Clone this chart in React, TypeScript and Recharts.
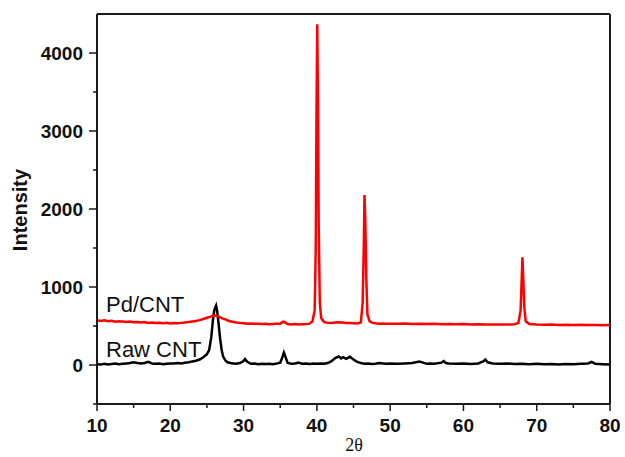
import { LineChart, Line, XAxis, YAxis, ReferenceLine } from 'recharts';

// Pd/CNT pattern (red)
const pdTheta = [
  10, 10.5, 11, 11.5, 12, 12.5, 13, 13.5, 14, 14.5, 15, 15.5, 16, 16.5, 17, 17.5, 18, 18.5, 19, 19.5,
  20, 20.5, 21, 21.5, 22, 22.5, 23, 23.5, 24, 24.5, 25, 25.5, 26, 26.3, 26.6, 27, 27.5, 28, 28.5, 29,
  29.5, 30, 30.5, 31, 31.5, 32, 32.5, 33, 33.5, 34, 34.5, 35, 35.4, 35.7, 36, 36.5, 37, 37.5, 38, 38.5,
  39, 39.4, 39.7, 39.85, 39.95, 40.05, 40.15, 40.25, 40.4, 40.6, 41, 41.5, 42, 42.5, 43, 43.5, 44, 44.5,
  45, 45.5, 46, 46.25, 46.4, 46.5, 46.6, 46.75, 46.9, 47.2, 47.6, 48, 48.5, 49, 49.5, 50, 51, 52, 53,
  54, 55, 56, 57, 58, 59, 60, 61, 62, 63, 64, 65, 66, 67, 67.5, 67.8, 67.95, 68.05, 68.15, 68.3, 68.5,
  69, 70, 71, 72, 73, 74, 75, 76, 77, 78, 79, 80,
];
const pdIntensity = [
  575, 565, 572, 560, 568, 556, 562, 558, 550, 556, 548, 552, 545, 550, 540, 546, 538, 542, 535, 540,
  532, 538, 535, 540, 545, 550, 558, 565, 575, 590, 605, 620, 638, 632, 620, 600, 585, 565, 555, 545,
  540, 535, 530, 532, 528, 530, 525, 528, 522, 525, 528, 530, 555, 545, 525, 520, 525, 520, 522, 525,
  530, 560, 700, 1500, 3200, 4370, 3400, 1800, 800, 600, 550, 540, 538, 545, 548, 545, 540, 538,
  535, 532, 545, 800, 1500, 2180, 1900, 1100, 650, 560, 540, 535, 530, 532, 528, 530, 528, 532, 526,
  530, 525, 528, 524, 526, 522, 525, 520, 522, 520, 518, 520, 518, 522, 540, 700, 1100, 1380, 1150, 750, 560,
  525, 518, 515, 518, 514, 516, 512, 515, 512, 514, 510, 512,
];

// Raw CNT pattern (black)
const rawTheta = [
  10, 10.5, 11, 11.5, 12, 12.5, 13, 13.5, 14, 14.5, 15, 15.5, 16, 16.5, 17, 17.5, 18, 18.5, 19, 19.5,
  20, 20.5, 21, 21.5, 22, 22.5, 23, 23.5, 24, 24.5, 25, 25.3, 25.6, 25.8, 26, 26.25, 26.4, 26.6, 26.8,
  27, 27.2, 27.5, 27.8, 28.2, 28.6, 29, 29.5, 30, 30.2, 30.5, 31, 31.5, 32, 32.5, 33, 33.5, 34, 34.5,
  35, 35.3, 35.5, 35.7, 36, 36.5, 37, 37.5, 38, 38.5, 39, 39.5, 40, 40.5, 41, 41.5, 42, 42.5, 43, 43.3,
  43.6, 44, 44.5, 45, 45.5, 46, 46.5, 47, 47.5, 48, 48.5, 49, 49.5, 50, 51, 52, 53, 53.5, 54, 54.5, 55,
  55.5, 56, 57, 57.3, 57.6, 58, 59, 60, 61, 62, 62.7, 63, 63.3, 64, 65, 66, 67, 68, 69, 70, 71, 72, 73,
  74, 75, 76, 77, 77.5, 78, 79, 80,
];
const rawIntensity = [
  10, 5, 15, 8, 12, 18, 10, 15, 20, 25, 35, 25, 20, 25, 40, 20, 15, 20, 10, 15,
  20, 18, 25, 20, 30, 35, 45, 55, 70, 100, 140, 190, 360, 560, 700, 760, 690, 520, 340,
  200, 110, 60, 35, 25, 20, 15, 25, 50, 75, 40, 15, 20, 10, 15, 12, 15, 10, 18,
  30, 100, 160, 110, 30, 15, 20, 30, 15, 20, 12, 18, 15, 20, 15, 25, 50, 90, 110, 85,
  100, 80, 105, 70, 40, 25, 15, 20, 12, 15, 25, 20, 15, 20, 15, 20, 25, 35, 45, 30, 15,
  20, 15, 30, 50, 25, 20, 15, 20, 12, 20, 45, 70, 35, 20, 15, 20, 12, 15, 10, 15, 10, 12, 8,
  12, 10, 15, 20, 40, 15, 10, 5,
];

const xTicks = [10, 15, 20, 25, 30, 35, 40, 45, 50, 55, 60, 65, 70, 75, 80];
const yTicks = [-500, 0, 500, 1000, 1500, 2000, 2500, 3000, 3500, 4000];

const pdData = pdTheta.map((x, i) => ({ x, y: pdIntensity[i] }));
const rawData = rawTheta.map((x, i) => ({ x, y: rawIntensity[i] }));

const AXIS = '#1a1a1a';
const TICK_SIZE = 6;
const TICK_MARGIN = 2;
const FONT = '"Liberation Sans", Arial, sans-serif';

function XTick({ x, y, payload }: any) {
  const v = payload.value;
  const major = v % 10 === 0;
  const y0 = y - TICK_SIZE - TICK_MARGIN;
  return (
    <g>
      <line x1={x} x2={x} y1={y0} y2={y0 + (major ? 7 : 4)} stroke={AXIS} strokeWidth={1.5} />
      {major && (
        <text x={x} y={y0 + 28} textAnchor="middle" fontFamily={FONT} fontWeight="bold" fontSize={19} fill="#111">
          {v}
        </text>
      )}
    </g>
  );
}

function YTick({ x, y, payload }: any) {
  const v = payload.value;
  const major = v % 1000 === 0;
  const x0 = x + TICK_SIZE + TICK_MARGIN;
  return (
    <g>
      <line x1={x0} x2={x0 - (major ? 8 : 4)} y1={y} y2={y} stroke={AXIS} strokeWidth={1.5} />
      {major && (
        <text x={x0 - 14} y={y + 7} textAnchor="end" fontFamily={FONT} fontWeight="bold" fontSize={19} fill="#111">
          {v}
        </text>
      )}
    </g>
  );
}

export default function App() {
  return (
    <div style={{ position: 'absolute', left: 0, top: 0, width: 625, height: 457, background: '#fff' }}>
      <LineChart width={625} height={457} margin={{ top: 14, right: 15, left: 0, bottom: 0 }}>
        <XAxis
          type="number"
          dataKey="x"
          domain={[10, 80]}
          ticks={xTicks}
          interval={0}
          height={53}
          allowDataOverflow
          tick={<XTick />}
          tickLine={false}
          tickSize={TICK_SIZE}
          tickMargin={TICK_MARGIN}
          axisLine={{ stroke: AXIS, strokeWidth: 2 }}
        />
        <YAxis
          type="number"
          domain={[-500, 4500]}
          ticks={yTicks}
          interval={0}
          width={97}
          allowDataOverflow
          tick={<YTick />}
          tickLine={false}
          tickSize={TICK_SIZE}
          tickMargin={TICK_MARGIN}
          axisLine={{ stroke: AXIS, strokeWidth: 2 }}
        />
        <ReferenceLine y={4500} stroke={AXIS} strokeWidth={2} />
        <ReferenceLine x={80} stroke={AXIS} strokeWidth={2} />
        <Line
          data={rawData}
          dataKey="y"
          type="linear"
          stroke="#000"
          strokeWidth={2.5}
          dot={false}
          isAnimationActive={false}
        />
        <Line
          data={pdData}
          dataKey="y"
          type="linear"
          stroke="#ff0000"
          strokeWidth={2.5}
          dot={false}
          isAnimationActive={false}
        />
      </LineChart>
      <svg width={625} height={457} style={{ position: 'absolute', left: 0, top: 0, pointerEvents: 'none' }}>
        <text x={106} y={312} fontFamily={FONT} fontSize={22} fill="#111">Pd/CNT</text>
        <text x={106} y={357} fontFamily={FONT} fontSize={22} fill="#111">Raw CNT</text>
        <text
          x={27}
          y={210}
          transform="rotate(-90 27 210)"
          textAnchor="middle"
          fontFamily={FONT}
          fontWeight="bold"
          fontSize={20}
          fill="#111"
        >
          Intensity
        </text>
        <text x={354} y={451} textAnchor="middle" fontFamily='"Liberation Serif", "Times New Roman", serif' fontSize={18} fill="#111">
          2θ
        </text>
      </svg>
    </div>
  );
}
